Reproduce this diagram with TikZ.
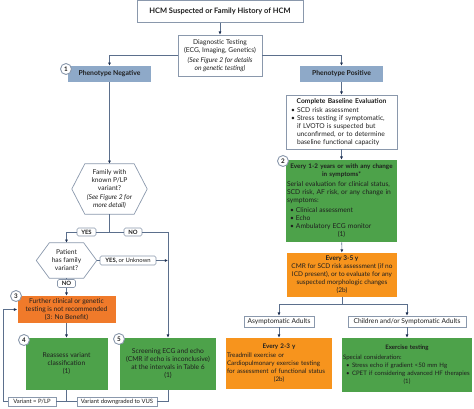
\documentclass[tikz,border=0pt]{standalone}
\usepackage{fontspec}
\setmainfont{Lato}
\usetikzlibrary{arrows.meta}
\usetikzlibrary{calc}
\definecolor{lineColor}{HTML}{5B6F8C}
\definecolor{edgeColor}{HTML}{8A98AC}
\definecolor{tipColor}{HTML}{1F3152}
\definecolor{phenoColor}{HTML}{8EA9C8}
\definecolor{greenColor}{HTML}{4DA24A}
\definecolor{orangeColor}{HTML}{F7941D}
\definecolor{redOrangeColor}{HTML}{F07A2A}
\setlength{\parindent}{0pt}

\begin{document}
\begin{tikzpicture}[x=1pt,y=-1pt,
  every node/.style={font=\fontsize{6.7}{8}\selectfont, text=black!88},
  box/.style={draw=edgeColor, line width=0.7pt, fill=white, inner xsep=2pt, inner ysep=2pt, align=center},
  gbox/.style={box, draw=none, fill=greenColor},
  obox/.style={box, draw=none, fill=orangeColor},
  rbox/.style={box, draw=none, fill=redOrangeColor},
  pheno/.style={fill=phenoColor, minimum width=83pt, minimum height=16pt, inner sep=0pt, font=\fontsize{6.8}{7}\selectfont\bfseries},
  hexa/.style={align=center, inner sep=0pt},
  hexline/.style={draw=edgeColor, line width=0.7pt},
  tag/.style={draw=edgeColor, line width=0.6pt, fill=white, inner sep=0pt, minimum height=8pt, font=\fontsize{5.9}{6}\selectfont},
  num/.style={circle, draw=edgeColor, line width=0.9pt, fill=white, minimum size=11pt, inner sep=0pt, font=\fontsize{6.3}{6}\selectfont\bfseries},
  conn/.style={draw=lineColor, line width=0.6pt},
  conna/.style={conn, -{Latex[length=3.2pt,width=3pt,color=tipColor]}},
]
\newcommand\Item[1]{\par\noindent\hbox to 9pt{\hspace{3pt}\textbullet\hss}\parbox[t]{\dimexpr\hsize-9pt}{\raggedright #1}\par}
\useasboundingbox (0,0) rectangle (474,408);

\node[box, minimum width=166pt, minimum height=21.5pt, font=\fontsize{7.5}{8}\selectfont\bfseries] (top) at (220,11.5) {HCM Suspected or Family History of HCM};
\node[box, minimum width=84pt, minimum height=41pt] (diag) at (220,55.5) {Diagnostic Testing\\(ECG, Imaging, Genetics)\\[1.5pt]\textit{(See Figure 2 for details}\\\textit{on genetic testing)}};
\node[pheno] (neg) at (109.5,74) {Phenotype Negative};
\node[pheno] (pos) at (341.5,74) {Phenotype Positive};

\node[box, text width=107pt, align=left, minimum height=54pt] (base) at (341.5,122) {{\centering\bfseries Complete Baseline Evaluation\par}\vspace{1pt}\Item{SCD risk assessment}\Item{Stress testing if symptomatic,\\if LVOTO is suspected but\\unconfirmed, or to determine\\baseline functional capacity}};
\node[gbox, text width=109pt, inner xsep=1pt, align=left, minimum height=82pt] (yr12) at (341.5,201) {{\centering\bfseries\fontsize{6.3}{8}\selectfont Every 1-2 years or with any change\\in symptoms*\par}\vspace{2pt}Serial evaluation for clinical status,\\SCD risk, AF risk, or any change in\\symptoms:\par\vspace{2pt}\Item{Clinical assessment}\Item{Echo}\Item{Ambulatory ECG monitor}{\centering (1)\par}};
\node[obox, minimum width=110pt, minimum height=44pt, font=\fontsize{6.5}{8}\selectfont] (yr35) at (342,275) {\textbf{Every 3-5 y}\\CMR for SCD risk assessment (if no\\ICD present), or to evaluate for any\\suspected morphologic changes\\(2b)};
\node[box, minimum width=70pt, minimum height=11pt, inner sep=0pt] (asym) at (279,321.5) {Asymptomatic Adults};
\node[box, minimum width=118pt, minimum height=11pt, inner sep=0pt] (sym) at (407,321.5) {Children and/or Symptomatic Adults};
\node[obox, text width=104pt, inner xsep=1pt, align=left, minimum height=51pt, font=\fontsize{6.3}{8}\selectfont] (yr23) at (279,363.5) {{\centering\bfseries Every 2-3 y\par}\vspace{1pt}Treadmill exercise or\\Cardiopulmonary exercise testing\\for assessment of functional status\par{\centering (2b)\par}};
\node[gbox, text width=128pt, inner xsep=1pt, align=left, minimum height=54pt, font=\fontsize{6.1}{8}\selectfont] (ex) at (407,365) {{\centering\bfseries Exercise testing\par}\vspace{2pt}Special consideration:\Item{Stress echo if gradient <50 mm Hg}\Item{CPET if considering advanced HF therapies}{\centering (1)\par}};

\node[hexa, minimum width=75pt, minimum height=50pt] (fam) at (109.5,189) {Family with\\known P/LP\\variant?\\[1.5pt]\textit{(See Figure 2 for}\\\textit{more detail)}};
\draw[hexline] ([xshift=13pt]fam.north west) -- ([xshift=-13pt]fam.north east) -- (fam.east) -- ([xshift=-13pt]fam.south east) -- ([xshift=13pt]fam.south west) -- (fam.west) -- cycle;
\node[hexa, minimum width=60pt, minimum height=35pt] (pat) at (66.5,260.5) {Patient\\has family\\variant?};
\draw[hexline] ([xshift=13pt]pat.north west) -- ([xshift=-13pt]pat.north east) -- (pat.east) -- ([xshift=-13pt]pat.south east) -- ([xshift=13pt]pat.south west) -- (pat.west) -- cycle;

\node[rbox, minimum width=98pt, minimum height=27pt] (nobenefit) at (66.5,309.5) {Further clinical or genetic\\testing is not recommended\\(3: No Benefit)};
\node[gbox, minimum width=82pt, minimum height=52pt] (reassess) at (66.5,364) {Reassess variant\\classification\\(1)};
\node[gbox, minimum width=96pt, minimum height=52pt] (screen) at (168,364) {Screening ECG and echo\\(CMR if echo is inconclusive)\\at the intervals in Table 6\\(1)};

\node[tag, rounded corners=1.5pt, minimum width=19pt] (yes) at (86.5,232) {\textbf{YES}};
\node[tag, rounded corners=1.5pt, minimum width=18pt] (no1) at (133,232) {\textbf{NO}};
\node[tag, rounded corners=1.5pt, minimum width=56pt, minimum height=9pt] (yesunk) at (128,260.5) {\textbf{YES,} or Unknown};
\node[tag, rounded corners=1.5pt, minimum width=18pt] (no2) at (66.5,283.5) {\textbf{NO}};
\node[tag, minimum width=48pt, minimum height=9pt] (plp) at (32,401.5) {Variant = P/LP};
\node[tag, minimum width=80pt, minimum height=9pt] (vus) at (117,401.5) {Variant downgraded to VUS};

\coordinate (split) at (342,304);
\coordinate (fork) at (109.5,232);
\coordinate (merge) at (168,260.5);
\coordinate (b4) at (66.5,401.5);
\coordinate (loop) at (3,401.5);

\draw[conna] (top) -- (diag);
\draw[conna] (diag.west) -| (neg.north);
\draw[conna] (diag.east) -| (pos.north);
\draw[conna] (pos) -- (base);
\draw[conna] (base) -- (yr12);
\draw[conna] (yr12) -- (yr35);
\draw[conn] (yr35.south) -- (split);
\draw[conna] (split) -| (asym.north);
\draw[conna] (split) -| (sym.north);
\draw[conna] (asym) -- (yr23);
\draw[conna] (sym) -- (ex);

\draw[conna] (neg) -- (fam.north);
\draw[conn] (fam.south) -- (fork);
\draw[conn] (fork) -- (yes.east);
\draw[conna] (yes.west) -| (pat.north);
\draw[conn] (fork) -- (no1.west);
\draw[conna] (no1.east) -| (screen.north);
\draw[conn] (pat.east) -- (yesunk.west);
\draw[conna] (yesunk.east) -- (merge);
\draw[conn] (pat.south) -- (no2.north);
\draw[conna] (no2.south) -- (nobenefit.north);
\draw[conna] (nobenefit) -- (reassess);
\draw[conn] (reassess.south) -- (b4) -- (plp.east);
\draw[conna] (plp.west) -- (loop) |- (nobenefit.west);
\draw[conn] (screen.south) |- (vus.east);
\draw[conn] (vus.west) -- (b4);

\node[num] (c1) at (66,69) {1};
\node[num] (c2) at (283,161) {2};
\node[num] (c3) at (16,296) {3};
\node[num] (c4) at (24,340) {4};
\node[num] (c5) at (119,339) {5};
\end{tikzpicture}
\end{document}
